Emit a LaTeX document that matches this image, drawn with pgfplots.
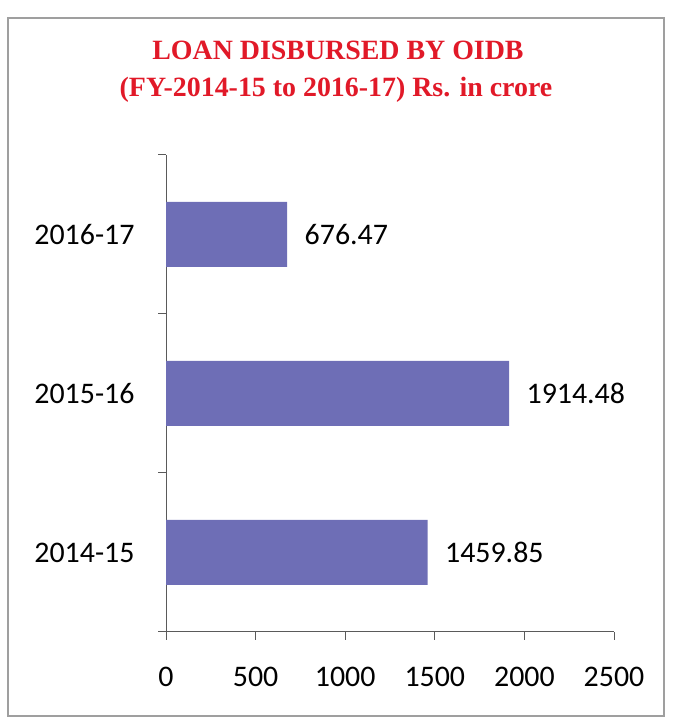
\documentclass[border=0pt]{standalone}
\usepackage{pgfplots}
\pgfplotsset{compat=1.18}
\usepackage{fontspec}
\setmainfont{Carlito}
\newfontfamily\titlefont{Liberation Serif}
\definecolor{barcol}{RGB}{110,110,182}
\definecolor{titlered}{RGB}{225,25,40}
\definecolor{axcol}{RGB}{90,90,90}
\begin{document}
\begin{tikzpicture}[x=1bp,y=1bp]
\useasboundingbox (0,0) rectangle (677,724);
\draw[gray!75, line width=1.2bp] (8,8) rectangle (664,706);
\node[font=\titlefont\bfseries\fontsize{28}{32}\selectfont, text=titlered, anchor=base] at (338,664) {LOAN DISBURSED BY OIDB};
\node[font=\titlefont\bfseries\fontsize{28}{32}\selectfont, text=titlered, anchor=base] at (336,627) {(FY-2014-15 to 2016-17) Rs. in crore};
\begin{axis}[
  at={(166bp,92bp)}, anchor=south west,
  width=448bp, height=477bp, scale only axis,
  xbar, xmin=0, xmax=2500, ymin=-0.5, ymax=2.5,
  axis x line*=bottom, axis y line*=left,
  axis line style={axcol, line width=1bp},
  every tick/.style={axcol, line width=1bp},
  tick align=outside, major tick length=8bp,
  xtick={0,500,1000,1500,2000,2500},
  ytick={-0.5,0.5,1.5,2.5}, yticklabels={},
  extra y ticks={0,1,2},
  extra y tick labels={2014-15,2015-16,2016-17},
  extra y tick style={major tick length=0pt, yticklabel style={xshift=-28bp}},
  /pgf/number format/assume math mode=true,
  /pgf/number format/1000 sep={},
  ticklabel style={font=\fontsize{30}{35}\selectfont, text=black},
  xticklabel style={yshift=-24bp},
  bar width=65bp,
  point meta=explicit symbolic,
  nodes near coords,
  every node near coord/.append style={font=\fontsize{30}{35}\selectfont, text=black, anchor=west, xshift=14bp},
]
\addplot[fill=barcol, draw=none] coordinates {(1459.85,0) [1459.85] (1914.48,1) [1914.48] (676.47,2) [676.47]};
\end{axis}
\end{tikzpicture}
\end{document}
